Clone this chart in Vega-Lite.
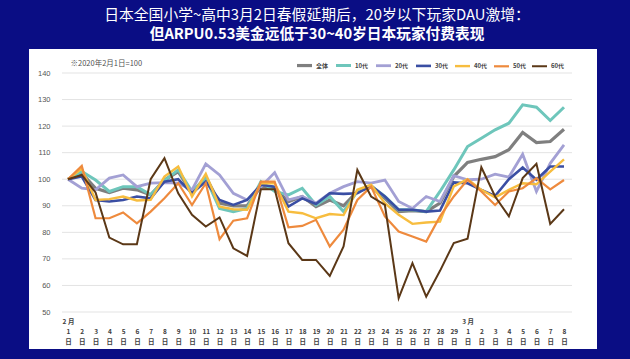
{
  "$schema": "https://vega.github.io/schema/vega-lite/v6.json",
  "width": 510,
  "height": 239,
  "autosize": "none",
  "padding": {"left": 62, "top": 73, "right": 58, "bottom": 47},
  "background": "#0a0d84",
  "title": {
    "text": "日本全国小学~高中3月2日春假延期后，20岁以下玩家DAU激增：",
    "subtitle": "但ARPU0.53美金远低于30~40岁日本玩家付费表现",
    "anchor": "middle",
    "frame": "group",
    "font": "Noto Sans CJK SC",
    "fontSize": 14.8,
    "fontWeight": "normal",
    "color": "#ffffff",
    "subtitleFont": "Noto Sans CJK SC",
    "subtitleFontSize": 14.7,
    "subtitleFontWeight": "bold",
    "subtitleColor": "#ffffff",
    "subtitlePadding": 5,
    "offset": 7,
    "zindex": 2
  },
  "config": {
    "view": {"stroke": null},
    "legend": {"zindex": 2}
  },
  "datasets": {
    "dau": [
      {"date": "2020-02-01", "全体": 100, "10代": 100, "20代": 100, "30代": 100, "40代": 100, "50代": 100, "60代": 100},
      {"date": "2020-02-02", "全体": 102.3, "10代": 102.9, "20代": 96.6, "30代": 101, "40代": 104, "50代": 105, "60代": 101.6},
      {"date": "2020-02-03", "全体": 96.6, "10代": 99.7, "20代": 96, "30代": 92.2, "40代": 92.2, "50代": 85.3, "60代": 95},
      {"date": "2020-02-04", "全体": 95, "10代": 95.4, "20代": 100.4, "30代": 91.6, "40代": 92.5, "50代": 85.3, "60代": 78},
      {"date": "2020-02-05", "全体": 96.6, "10代": 97.2, "20代": 101.6, "30代": 92.2, "40代": 93.5, "50代": 87.5, "60代": 75.5},
      {"date": "2020-02-06", "全体": 96, "10代": 97.2, "20代": 97.2, "30代": 93.5, "40代": 92, "50代": 83.4, "60代": 75.5},
      {"date": "2020-02-07", "全体": 94.1, "10代": 94.1, "20代": 98.5, "30代": 92.8, "40代": 92.2, "50代": 87.8, "60代": 100},
      {"date": "2020-02-08", "全体": 99.7, "10代": 99.5, "20代": 98.7, "30代": 99.1, "40代": 101, "50代": 92.8, "60代": 107.9},
      {"date": "2020-02-09", "全体": 102.9, "10代": 103.5, "20代": 98.5, "30代": 100, "40代": 104.8, "50代": 98.5, "60代": 94.7},
      {"date": "2020-02-10", "全体": 94.7, "10代": 95.4, "20代": 96, "30代": 94.7, "40代": 93.5, "50代": 90.3, "60代": 86.6},
      {"date": "2020-02-11", "全体": 101, "10代": 100.4, "20代": 105.8, "30代": 99.1, "40代": 102, "50代": 98.5, "60代": 82.2},
      {"date": "2020-02-12", "全体": 91, "10代": 89, "20代": 101.6, "30代": 92.2, "40代": 89.7, "50代": 77.4, "60代": 85.6},
      {"date": "2020-02-13", "全体": 90, "10代": 87.8, "20代": 94.7, "30代": 90.3, "40代": 88.7, "50代": 84.4, "60代": 74},
      {"date": "2020-02-14", "全体": 90, "10代": 89, "20代": 92.2, "30代": 92.2, "40代": 88.5, "50代": 85.3, "60代": 71.1},
      {"date": "2020-02-15", "全体": 97.2, "10代": 99.1, "20代": 97.2, "30代": 97.9, "40代": 98.5, "50代": 99.1, "60代": 96.2},
      {"date": "2020-02-16", "全体": 96.6, "10代": 95.4, "20代": 102.5, "30代": 97.2, "40代": 98.5, "50代": 99.1, "60代": 96.2},
      {"date": "2020-02-17", "全体": 91.6, "10代": 94.1, "20代": 92.2, "30代": 89.7, "40代": 87.8, "50代": 81.9, "60代": 75.9},
      {"date": "2020-02-18", "全体": 93.5, "10代": 96.6, "20代": 93.5, "30代": 92.8, "40代": 87.2, "50代": 82.4, "60代": 69.6},
      {"date": "2020-02-19", "全体": 89.7, "10代": 90.3, "20代": 91, "30代": 90.7, "40代": 85.3, "50代": 84.7, "60代": 69.6},
      {"date": "2020-02-20", "全体": 92.2, "10代": 93.5, "20代": 94.7, "30代": 94.7, "40代": 86.9, "50代": 74.7, "60代": 63.6},
      {"date": "2020-02-21", "全体": 90, "10代": 87.8, "20代": 97.2, "30代": 94.5, "40代": 86.5, "50代": 81, "60代": 74.7},
      {"date": "2020-02-22", "全体": 95.4, "10代": 95.4, "20代": 99.1, "30代": 94.7, "40代": 96, "50代": 92.2, "60代": 103.5},
      {"date": "2020-02-23", "全体": 97.2, "10代": 97.5, "20代": 98.5, "30代": 97.5, "40代": 97.9, "50代": 97.2, "60代": 93.5},
      {"date": "2020-02-24", "全体": 92.8, "10代": 93.5, "20代": 99.7, "30代": 93.5, "40代": 91, "50代": 86, "60代": 90.3},
      {"date": "2020-02-25", "全体": 87.8, "10代": 88.5, "20代": 91.6, "30代": 88.5, "40代": 86.6, "50代": 80.3, "60代": 55.2},
      {"date": "2020-02-26", "全体": 88.2, "10代": 88.5, "20代": 89, "30代": 88.5, "40代": 83.2, "50代": 78.4, "60代": 68.4},
      {"date": "2020-02-27", "全体": 87.8, "10代": 87.8, "20代": 93.5, "30代": 87.8, "40代": 83.7, "50代": 76.5, "60代": 55.8},
      {"date": "2020-02-28", "全体": 91, "10代": 95.4, "20代": 91.6, "30代": 88.2, "40代": 84, "50代": 86, "60代": 65.5},
      {"date": "2020-02-29", "全体": 101, "10代": 103.5, "20代": 101.3, "30代": 98.8, "40代": 97.3, "50代": 93.5, "60代": 76},
      {"date": "2020-03-01", "全体": 106.3, "10代": 112.3, "20代": 99.8, "30代": 98.5, "40代": 100, "50代": 99.8, "60代": 77.6},
      {"date": "2020-03-02", "全体": 107.5, "10代": 115.4, "20代": 100, "30代": 96, "40代": 96, "50代": 95.4, "60代": 104.5},
      {"date": "2020-03-03", "全体": 108.5, "10代": 118.6, "20代": 101.9, "30代": 93.7, "40代": 93.2, "50代": 90.3, "60代": 93.5},
      {"date": "2020-03-04", "全体": 111.1, "10代": 121.1, "20代": 100.8, "30代": 100, "40代": 96, "50代": 95.4, "60代": 86},
      {"date": "2020-03-05", "全体": 117.6, "10代": 128, "20代": 109.4, "30代": 104.4, "40代": 98.5, "50代": 96.6, "60代": 100.4},
      {"date": "2020-03-06", "全体": 113.8, "10代": 127.1, "20代": 95.4, "30代": 99.8, "40代": 98.1, "50代": 100.4, "60代": 105.8},
      {"date": "2020-03-07", "全体": 114.2, "10代": 122.1, "20代": 106, "30代": 104.8, "40代": 102.9, "50代": 96.2, "60代": 83.2},
      {"date": "2020-03-08", "全体": 118.8, "10代": 127.1, "20代": 112.9, "30代": 104.8, "40代": 107.5, "50代": 99.7, "60代": 88.7}
    ],
    "grid": [
      {"tick": 50}, {"tick": 60}, {"tick": 70}, {"tick": 80}, {"tick": 90},
      {"tick": 100}, {"tick": 110}, {"tick": 120}, {"tick": 130}, {"tick": 140}
    ]
  },
  "layer": [
    {
      "data": {"values": [{"panel": "white"}]},
      "mark": {"type": "rect", "fill": "#ffffff", "clip": false},
      "encoding": {
        "x": {"datum": {"year": 2020, "month": 1, "date": 29, "hours": 4, "minutes": 5, "utc": true}, "type": "temporal"},
        "x2": {"datum": {"year": 2020, "month": 3, "date": 10, "hours": 9, "minutes": 29, "utc": true}},
        "y": {
          "datum": 149,
          "type": "quantitative",
          "axis": {
            "title": "※2020年2月1日=100",
            "titleAngle": 0,
            "titleX": 8,
            "titleY": -10,
            "titleAlign": "left",
            "titleBaseline": "middle",
            "titleFont": "Noto Sans CJK SC",
            "titleFontSize": 7.5,
            "titleFontWeight": "normal",
            "titleColor": "#505050",
            "zindex": 1,
            "grid": false,
            "domain": false,
            "ticks": false,
            "values": [50, 60, 70, 80, 90, 100, 110, 120, 130, 140],
            "tickCount": 10,
            "labelOverlap": false,
            "labelFont": "Liberation Sans",
            "labelFontSize": 7.5,
            "labelColor": "#555555",
            "labelPadding": 12
          }
        },
        "y2": {"datum": 36.1}
      }
    },
    {
      "data": {"name": "grid"},
      "mark": {"type": "rule", "color": "#e3e3e3", "strokeWidth": 1},
      "encoding": {
        "y": {
          "field": "tick",
          "type": "quantitative",
          "axis": {
            "title": "※2020年2月1日=100",
            "titleAngle": 0,
            "titleX": 8,
            "titleY": -10,
            "titleAlign": "left",
            "titleBaseline": "middle",
            "titleFont": "Noto Sans CJK SC",
            "titleFontSize": 7.5,
            "titleFontWeight": "normal",
            "titleColor": "#505050",
            "zindex": 1,
            "grid": false,
            "domain": false,
            "ticks": false,
            "values": [50, 60, 70, 80, 90, 100, 110, 120, 130, 140],
            "tickCount": 10,
            "labelOverlap": false,
            "labelFont": "Liberation Sans",
            "labelFontSize": 7.5,
            "labelColor": "#555555",
            "labelPadding": 12
          }
        }
      }
    },
    {
      "data": {"name": "dau"},
      "transform": [
        {"fold": ["全体", "10代", "20代", "30代", "40代", "50代", "60代"], "as": ["series", "value"]}
      ],
      "mark": {"type": "line", "strokeJoin": "miter"},
      "encoding": {
        "x": {
          "field": "date",
          "type": "temporal",
          "scale": {
            "type": "utc",
            "nice": false,
            "domain": [
              {"year": 2020, "month": 1, "date": 31, "hours": 13, "minutes": 33, "utc": true},
              {"year": 2020, "month": 3, "date": 8, "hours": 13, "minutes": 56, "utc": true}
            ]
          },
          "axis": {
            "title": null,
            "zindex": 1,
            "grid": false,
            "domain": false,
            "ticks": false,
            "tickCount": {"interval": "day", "step": 1},
            "labelExpr": "[utcdate(datum.value) == 1 ? (utcmonth(datum.value) + 1) + ' 月' : '', '' + utcdate(datum.value), '日']",
            "labelOverlap": false,
            "labelFlush": false,
            "labelFont": "Noto Sans CJK SC",
            "labelFontSize": 6.5,
            "labelFontWeight": "bold",
            "labelColor": "#404040",
            "labelLineHeight": 10,
            "labelBaseline": "top",
            "labelPadding": 6
          }
        },
        "y": {
          "field": "value",
          "type": "quantitative",
          "scale": {"domain": [50, 140], "nice": false, "zero": false},
          "axis": {
            "title": "※2020年2月1日=100",
            "titleAngle": 0,
            "titleX": 8,
            "titleY": -10,
            "titleAlign": "left",
            "titleBaseline": "middle",
            "titleFont": "Noto Sans CJK SC",
            "titleFontSize": 7.5,
            "titleFontWeight": "normal",
            "titleColor": "#505050",
            "zindex": 1,
            "grid": false,
            "domain": false,
            "ticks": false,
            "values": [50, 60, 70, 80, 90, 100, 110, 120, 130, 140],
            "tickCount": 10,
            "labelOverlap": false,
            "labelFont": "Liberation Sans",
            "labelFontSize": 7.5,
            "labelColor": "#555555",
            "labelPadding": 12
          }
        },
        "color": {
          "field": "series",
          "type": "nominal",
          "scale": {
            "domain": ["全体", "10代", "20代", "30代", "40代", "50代", "60代"],
            "range": ["#7f7f7f", "#6ec6bb", "#a3a0d4", "#3a4ea3", "#f7bd3f", "#ee8a3d", "#5b3817"]
          },
          "legend": {
            "title": null,
            "orient": "none",
            "legendX": 233,
            "legendY": -17,
            "direction": "horizontal",
            "columns": 7,
            "symbolType": "stroke",
            "symbolSize": 225,
            "labelFont": "Noto Sans CJK SC",
            "labelFontSize": 6,
            "labelFontWeight": "bold",
            "labelColor": "#444444",
            "labelOffset": 2,
            "columnPadding": 1,
            "padding": 0
          }
        },
        "strokeWidth": {
          "field": "series",
          "type": "ordinal",
          "scale": {
            "domain": ["全体", "10代", "20代", "30代", "40代", "50代", "60代"],
            "range": [3.2, 2, 2, 2, 2, 2, 2.3]
          },
          "legend": null
        },
        "order": {"field": "series", "sort": "ascending"}
      }
    }
  ]
}
